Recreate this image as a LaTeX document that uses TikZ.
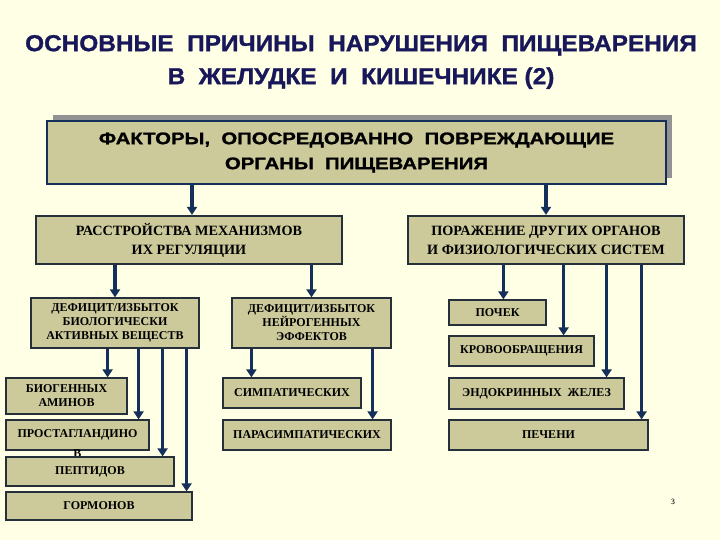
\documentclass[tikz,border=0pt]{standalone}
\usepackage{fontspec}
\setmainfont{Liberation Serif}
\newfontfamily\titlefont[FakeStretch=1.06,FakeBold=1.2]{Liberation Sans}
\newfontfamily\headfont[FakeStretch=1.21,FakeBold=1.2]{Liberation Sans}
\usetikzlibrary{arrows.meta,shadows}
\definecolor{cream}{HTML}{FFFFE6}
\definecolor{khaki}{HTML}{CCC99B}
\definecolor{navy}{HTML}{14305A}
\definecolor{titleblue}{HTML}{17175A}
\definecolor{edge}{HTML}{26303A}

\begin{document}
\begin{tikzpicture}[x=1pt,y=-1pt]
\tikzstyle{mainbox} = [rectangle, inner sep=0pt, align=center, draw=navy, line width=2.8pt, fill=khaki, drop shadow={shadow xshift=6pt, shadow yshift=6pt, fill=gray!85, opacity=1}]
\tikzstyle{midbox} = [rectangle, inner sep=0pt, align=center, draw=edge, line width=2.2pt, fill=khaki, font=\fontsize{14.2}{19}\selectfont\bfseries]
\tikzstyle{smallbox} = [rectangle, inner sep=0pt, align=center, draw=edge, line width=1.2pt, fill=khaki, font=\fontsize{12}{14}\selectfont\bfseries]
\tikzstyle{arrow} = [line width=3.5pt, draw=navy, -{Triangle[width=10pt,length=8pt]}]

\useasboundingbox (0,0) rectangle (720,540);
\fill[cream] (0,0) rectangle (720,540);

% heading
\node (title) at (361,62) [align=center, text=titleblue, font=\titlefont\fontsize{23}{33}\selectfont\bfseries]
  {ОСНОВНЫЕ\ \ ПРИЧИНЫ\ \ НАРУШЕНИЯ\ \ ПИЩЕВАРЕНИЯ\\В\ \ ЖЕЛУДКЕ\ \ И\ \ КИШЕЧНИКЕ (2)};

\node (main) at (356.5,152.5) [mainbox, minimum width=619pt, minimum height=63pt, font=\headfont\fontsize{16.8}{25}\selectfont\bfseries]
  {ФАКТОРЫ,\ \ ОПОСРЕДОВАННО\ \ ПОВРЕЖДАЮЩИЕ\\ОРГАНЫ\ \ ПИЩЕВАРЕНИЯ};

% second level
\node (regul) at (189,240) [midbox, minimum width=306pt, minimum height=48pt] {РАССТРОЙСТВА МЕХАНИЗМОВ\\ИХ РЕГУЛЯЦИИ};
\node (organs) at (546,240) [midbox, minimum width=276pt, minimum height=48pt] {ПОРАЖЕНИЕ ДРУГИХ ОРГАНОВ\\И ФИЗИОЛОГИЧЕСКИХ СИСТЕМ};

% third level
\node (biol) at (115,323) [smallbox, minimum width=168pt, minimum height=50pt] {ДЕФИЦИТ/ИЗБЫТОК\\БИОЛОГИЧЕСКИ\\АКТИВНЫХ ВЕЩЕСТВ};
\node (neuro) at (311.5,323) [smallbox, minimum width=159pt, minimum height=50pt] {ДЕФИЦИТ/ИЗБЫТОК\\НЕЙРОГЕННЫХ\\ЭФФЕКТОВ};

\node (amin) at (66.5,396) [smallbox, minimum width=121pt, minimum height=36pt] {БИОГЕННЫХ\\АМИНОВ};
\node (prost) at (77.5,435) [smallbox, minimum width=143pt, minimum height=30pt,
  label={[font=\fontsize{12}{14}\selectfont\bfseries, inner sep=0pt, anchor=center, yshift=-3pt]south:В}] {ПРОСТАГЛАНДИНО};
\node (pept) at (90,471.5) [smallbox, minimum width=168pt, minimum height=29pt] {ПЕПТИДОВ};
\node (horm) at (99,506) [smallbox, minimum width=186pt, minimum height=28pt] {ГОРМОНОВ};

\node (symp) at (292,393) [smallbox, minimum width=138pt, minimum height=30pt] {СИМПАТИЧЕСКИХ};
\node (psymp) at (307,435) [smallbox, minimum width=168pt, minimum height=30pt] {ПАРАСИМПАТИЧЕСКИХ};

\node (kidney) at (497.5,312.5) [smallbox, minimum width=97pt, minimum height=25pt] {ПОЧЕК};
\node (circ) at (521.5,351) [smallbox, minimum width=145pt, minimum height=30pt] {КРОВООБРАЩЕНИЯ};
\node (endo) at (536.5,393.5) [smallbox, minimum width=175pt, minimum height=31pt] {ЭНДОКРИННЫХ\ \ ЖЕЛЕЗ};
\node (liver) at (548.5,435) [smallbox, minimum width=199pt, minimum height=30pt] {ПЕЧЕНИ};

\node (pagenum) at (673,502) [font=\sffamily\fontsize{8}{9}\selectfont] {3};

% arrow ends
\coordinate (inregul) at ([xshift=3pt]regul.north);
\coordinate (inamin) at ([xshift=-20pt]amin.north east);
\coordinate (inprost) at ([xshift=-11pt]prost.north east);
\coordinate (inpept) at ([xshift=-12pt]pept.north east);
\coordinate (inhorm) at ([xshift=-6pt]horm.north east);
\coordinate (insymp) at ([xshift=29pt]symp.north west);
\coordinate (inpsymp) at ([xshift=-19pt]psymp.north east);
\coordinate (inkidney) at ([xshift=55pt]kidney.north west);
\coordinate (incirc) at ([xshift=-31pt]circ.north east);
\coordinate (inendo) at ([xshift=-18pt]endo.north east);
\coordinate (inliver) at ([xshift=-7pt]liver.north east);

\draw [arrow] (main.south -| inregul) -- (inregul);
\draw [arrow] (main.south -| organs.north) -- (organs.north);

\draw [arrow] (regul.south -| biol.north) -- (biol.north);
\draw [arrow] (regul.south -| neuro.north) -- (neuro.north);

\draw [arrow] (biol.south -| inamin) -- (inamin);
\draw [arrow] (biol.south -| inprost) -- (inprost);
\draw [arrow] (biol.south -| inpept) -- (inpept);
\draw [arrow] (biol.south -| inhorm) -- (inhorm);

\draw [arrow] (neuro.south -| insymp) -- (insymp);
\draw [arrow] (neuro.south -| inpsymp) -- (inpsymp);

\draw [arrow] (organs.south -| inkidney) -- (inkidney);
\draw [arrow] (organs.south -| incirc) -- (incirc);
\draw [arrow] (organs.south -| inendo) -- (inendo);
\draw [arrow] (organs.south -| inliver) -- (inliver);
\end{tikzpicture}
\end{document}
